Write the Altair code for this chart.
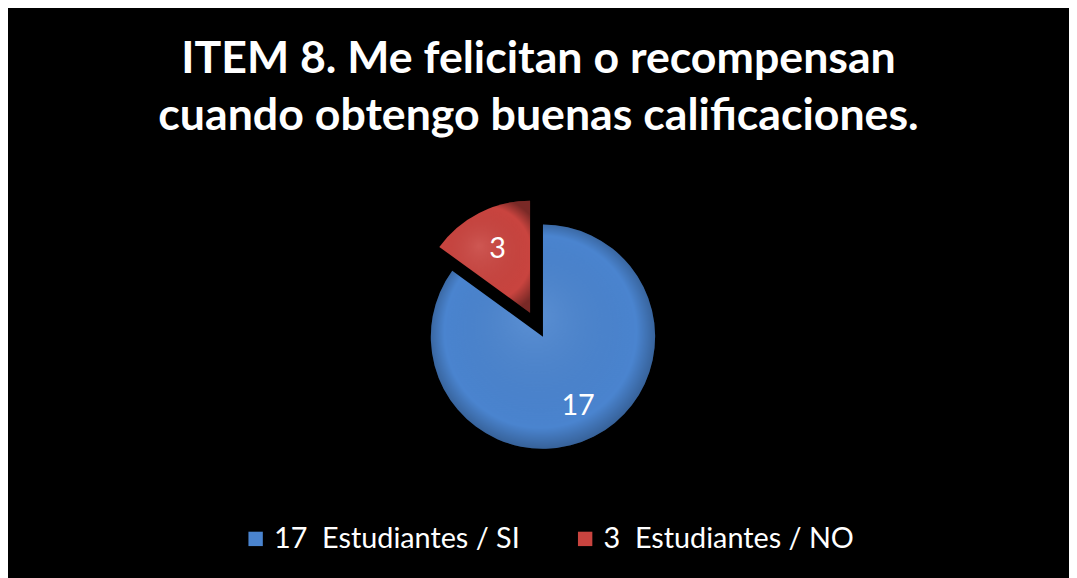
import altair as alt
import pandas as pd

categories = ["17\u00a0 Estudiantes / SI", "3\u00a0 Estudiantes / NO"]
values = [17, 3]
slice_labels = ["17", "3"]
order = [1, 2]
colors = ["#4a84cf", "#c9443f"]

df = pd.DataFrame({"cat": categories, "value": values, "lab": slice_labels, "ord": order})

CX, CY, R = 539, 329, 113
EX, EY = -13, -24  # explode offset of the small slice

base = alt.Chart(df).transform_stack(
    stack="value", groupby=[], as_=["v0", "v1"], sort=[alt.SortField("ord")]
).transform_calculate(mid="(datum.v0 + datum.v1) / 2")

theta_scale = alt.Scale(domain=[0, 20])
color_enc = alt.Color(
    "cat:N",
    scale=alt.Scale(domain=categories, range=colors),
    legend=alt.Legend(
        title=None, orient="none", legendX=235, legendY=518, direction="horizontal",
        symbolType="square", symbolSize=210, symbolStrokeWidth=0,
        labelFontSize=29, labelColor="white", labelFont="Lato",
        labelOffset=4, columnPadding=51, padding=0, labelLimit=400,
    ),
)

shade = alt.Gradient(
    gradient="radial",
    stops=[
        alt.GradientStop(color="rgba(255,255,255,0.10)", offset=0),
        alt.GradientStop(color="rgba(0,0,0,0)", offset=0.78),
        alt.GradientStop(color="rgba(0,0,0,0.40)", offset=1),
    ],
    x1=0.45, y1=0.4, r1=0, x2=0.5, y2=0.5, r2=0.55,
)

def slice_layers(filt, dx, dy, lab_r):
    b = base.transform_filter(filt)
    arc = b.mark_arc(x=CX, y=CY, radius=R, xOffset=dx, yOffset=dy).encode(
        theta=alt.Theta("v0:Q", scale=theta_scale), theta2="v1:Q", color=color_enc
    )
    sh = b.mark_arc(x=CX, y=CY, radius=R, xOffset=dx, yOffset=dy, fill=shade).encode(
        theta=alt.Theta("v0:Q", scale=theta_scale), theta2="v1:Q"
    )
    txt = b.mark_text(
        x=CX, y=CY, radius=lab_r, xOffset=dx, yOffset=dy, font="Lato",
        fontSize=29, color="white", baseline="middle", align="center",
    ).encode(theta=alt.Theta("mid:Q", scale=theta_scale), text="lab:N")
    return [arc, sh, txt]

layers = slice_layers("datum.ord == 1", 0, 0, 78) + slice_layers("datum.ord == 2", EX, EY, 72)

chart = alt.layer(*layers).properties(
    width=1069,
    height=570,
    background="black",
    padding=0,
    autosize=alt.AutoSizeParams(type="none"),
    title=alt.TitleParams(
        text=["ITEM 8. Me felicitan o recompensan", "cuando obtengo buenas calificaciones."],
        color="white", font="Lato", fontSize=45, fontWeight="bold",
        lineHeight=58, anchor="middle", offset=-130,
    ),
).configure_view(stroke=None)

chart.save("out.html", embed_options={"renderer": "svg", "actions": False})
